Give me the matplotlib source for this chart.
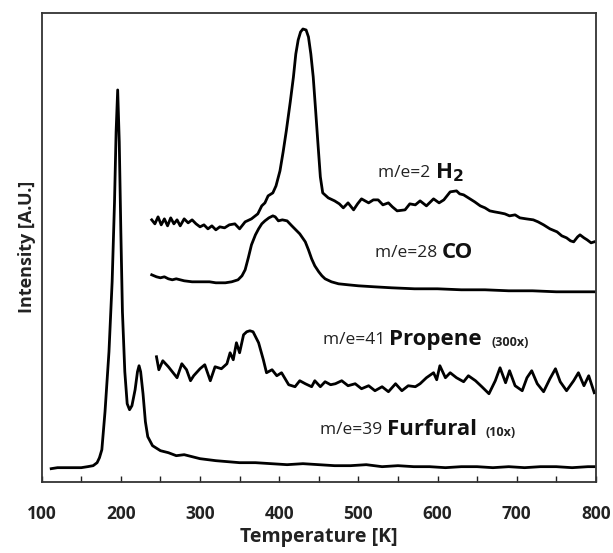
import matplotlib
matplotlib.use("Agg")
import matplotlib.pyplot as plt
from matplotlib.ticker import MultipleLocator, FuncFormatter

plt.rcParams["font.family"] = ["Open Sans", "DejaVu Sans"]

# m/e=39 furfural (10x)
furfural_t = [112, 120, 130, 140, 150, 158, 165, 170, 173, 176, 180, 185, 189, 192, 194,
              196, 198, 200, 202, 205, 208, 211, 214, 218, 221, 223, 225, 228, 231, 234,
              240, 250, 260, 270, 280, 290, 300, 310, 320, 335, 350, 370, 390, 410, 430,
              450, 470, 490, 510, 530, 550, 570, 590, 610, 630, 650, 670, 690, 710, 730,
              750, 770, 790, 798]
furfural_i = [13, 14, 14, 14, 14, 15, 16, 19, 24, 32, 70, 130, 200, 280, 350,
              392, 340, 250, 170, 110, 78, 72, 76, 92, 110, 116, 110, 88, 60, 45,
              36, 31, 29, 26, 27, 25, 23, 22, 21, 20, 19, 19, 18, 17, 18,
              17, 16, 16, 17, 15, 16, 15, 15, 14, 15, 15, 14, 15, 14, 15,
              15, 14, 15, 15]

# m/e=2 H2
h2_t = [239, 243, 247, 251, 255, 259, 263, 267, 271, 275, 280, 285, 290, 295, 300,
        305, 310, 315, 320, 325, 331, 337, 344, 350, 357, 365, 373, 378, 382, 386,
        392, 396, 401, 405, 409, 414, 418, 421, 424, 427, 430, 434, 437, 440, 443,
        446, 449, 452, 455, 462, 470, 476, 481, 487, 494, 499, 504, 513, 519, 525,
        531, 538, 543, 549, 559, 565, 572, 578, 586, 595, 602, 608, 616, 624, 628,
        633, 641, 647, 654, 660, 666, 672, 679, 685, 691, 698, 704, 712, 721, 727,
        734, 742, 751, 757, 763, 768, 772, 777, 780, 785, 789, 794, 798]
h2_i = [262, 258, 265, 257, 263, 256, 264, 258, 262, 256, 263, 259, 262, 258, 255,
        257, 253, 256, 252, 255, 254, 257, 258, 253, 260, 263, 268, 276, 279, 286,
        289, 296, 311, 330, 351, 380, 405, 428, 442, 450, 453, 452, 445, 428, 405,
        372, 338, 305, 289, 284, 281, 278, 274, 279, 272, 278, 283, 279, 282, 282,
        277, 279, 275, 271, 272, 278, 277, 281, 276, 283, 279, 282, 290, 291, 288,
        287, 283, 280, 276, 274, 271, 270, 269, 268, 266, 267, 264, 263, 262, 260,
        257, 253, 250, 246, 244, 241, 240, 245, 247, 244, 242, 239, 240]

# m/e=28 CO
co_t = [239, 245, 250, 255, 260, 265, 270, 275, 280, 290, 300, 312, 320, 332, 340,
        348, 353, 357, 361, 365, 370, 374, 378, 382, 387, 392, 395, 399, 404, 410,
        416, 421, 426, 433, 437, 441, 445, 450, 454, 458, 466, 475, 487, 500, 520,
        542, 571, 600, 630, 660, 690, 720, 750, 780, 798]
co_i = [207, 205, 204, 205, 203, 202, 203, 202, 201, 200, 200, 200, 199, 199, 200,
        202, 206, 212, 224, 237, 247, 253, 258, 261, 264, 266, 265, 261, 262, 261,
        256, 252, 248, 240, 232, 223, 216, 210, 206, 203, 200, 198, 197, 196, 195,
        194, 193, 193, 192, 192, 191, 191, 190, 190, 190]

# m/e=41 propene (300x)
propene_t = [245, 248, 253, 260, 265, 271, 277, 283, 288, 292, 300, 306, 313, 319, 327,
             334, 338, 342, 346, 350, 355, 359, 363, 367, 374, 380, 384, 391, 397, 403,
             412, 420, 426, 433, 441, 445, 452, 458, 465, 471, 479, 487, 496, 504, 513,
             521, 530, 538, 547, 555, 563, 572, 578, 586, 595, 599, 603, 610, 616, 624,
             633, 639, 648, 656, 665, 673, 679, 686, 691, 698, 707, 713, 719, 726, 734,
             742, 749, 755, 763, 772, 778, 785, 791, 798]
propene_i = [125, 112, 121, 115, 110, 104, 118, 112, 101, 106, 113, 117, 101, 115, 113,
             118, 129, 122, 139, 129, 147, 150, 151, 150, 139, 122, 109, 112, 106, 109,
             97, 95, 101, 98, 95, 101, 95, 100, 97, 98, 101, 96, 98, 93, 96,
             91, 95, 90, 98, 91, 96, 95, 98, 104, 109, 102, 116, 104, 109, 104,
             100, 106, 101, 95, 88, 101, 114, 99, 111, 96, 91, 104, 111, 98, 90,
             103, 113, 100, 91, 101, 109, 96, 106, 89]

# label pieces: (x, y, normal text, bold text, small bold note)
labels = [
    (525, 309, "m/e=2 ", "H$_\\mathbf{2}$", ""),
    (521, 229, "m/e=28 ", "CO", ""),
    (455, 142, "m/e=41 ", "Propene", "(300x)"),
    (452, 52, "m/e=39 ", "Furfural", "(10x)"),
]

fig = plt.figure(figsize=(6.13, 5.53), dpi=100)
ax = fig.add_axes([0.068, 0.129, 0.904, 0.8475])

for t, i in [(furfural_t, furfural_i), (h2_t, h2_i), (co_t, co_i), (propene_t, propene_i)]:
    ax.plot(t, i, color="black", lw=2.0, solid_joinstyle="round")

ax.set_xlim(100, 800)
ax.set_ylim(0, 469)
ax.set_yticks([])
ax.xaxis.set_major_locator(MultipleLocator(50))
ax.xaxis.set_major_formatter(FuncFormatter(lambda v, p: f"{v:.0f}" if v % 100 == 0 else ""))
ax.tick_params(axis="x", direction="in", length=4, width=1, pad=17,
               labelsize=12.5, colors="#222222")
for lab in ax.get_xticklabels():
    lab.set_fontweight("bold")
for s in ax.spines.values():
    s.set_color("#333333")
    s.set_linewidth(1.3)

ax.set_xlabel("Temperature [K]", fontsize=14, fontweight="bold", labelpad=3, color="#222222")
ax.set_ylabel("Intensity [A.U.]", fontsize=13, fontweight="bold", labelpad=4, color="#222222")

fig.canvas.draw()
renderer = fig.canvas.get_renderer()
for x, y, normal, bold, note in labels:
    t1 = ax.text(x, y, normal, fontsize=12.5, va="center", ha="left", color="#222222")
    bb = t1.get_window_extent(renderer)
    x2 = ax.transData.inverted().transform((bb.x1, 0))[0]
    t2 = ax.text(x2, y, bold, fontsize=16, fontweight="bold", va="center", ha="left",
                 color="#111111")
    if note:
        bb2 = t2.get_window_extent(renderer)
        x3 = ax.transData.inverted().transform((bb2.x1 + 9, 0))[0]
        ax.text(x3, y - 3, note, fontsize=9, fontweight="bold", va="center", ha="left",
                color="#222222")

fig.savefig("out.png", dpi=100)
